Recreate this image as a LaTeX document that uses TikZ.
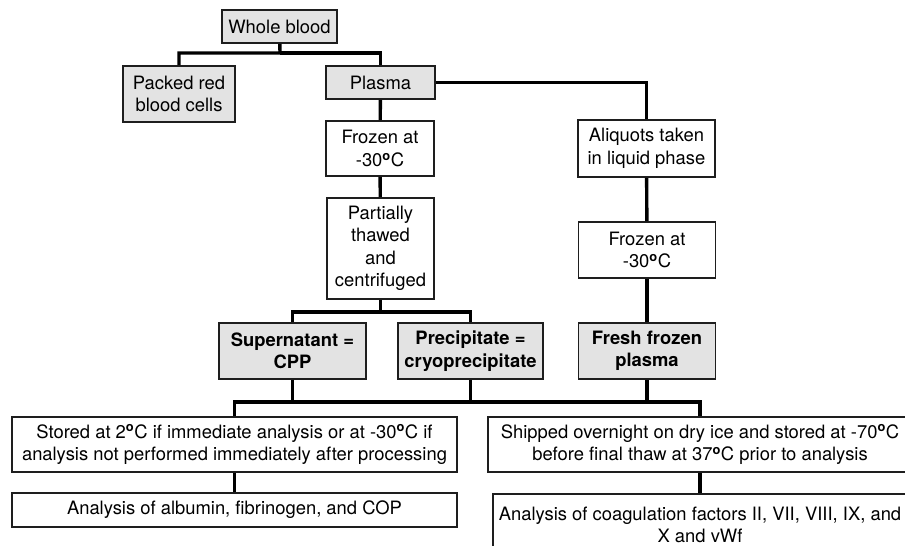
\documentclass[tikz,border=0pt]{standalone}
\usepackage{fontspec}
\setmainfont{TeX Gyre Heros}
\usepackage{xcolor}
\usepackage{tikz}
\usetikzlibrary{positioning,calc}
\definecolor{boxgrey}{HTML}{E3E3E3}
\definecolor{edge}{HTML}{1E1E1E}
\newcommand{\dC}{\textsuperscript{\textbf{o}}C}

\begin{document}
\begin{tikzpicture}[x=1pt,y=-1pt,
  font=\fontsize{18.4}{22.5}\selectfont,
  box/.style={draw=edge,line width=1.9pt,align=center,inner sep=0pt,fill=white},
  part/.style={box,fill=boxgrey},
  prod/.style={part,font=\fontsize{18.4}{22.5}\selectfont\bfseries},
  link/.style={line width=3.4pt,black}]
  \useasboundingbox (0,0) rectangle (905,546);
  \clip (0,0) rectangle (905,546);
  \node[part,minimum width=115,minimum height=33] (whole) at (279.5,26.5) {Whole blood};
  \node[part,minimum width=112,minimum height=56] (packed) at (179,94) {Packed red\\blood cells};
  \node[part,minimum width=109,minimum height=33] (plasma) at (380.5,82.5) {Plasma};
  \node[box,minimum width=108,minimum height=55] (frozA) at (380,148.5) {Frozen at\\-30\dC};
  \node[box,minimum width=107,minimum height=101] (thawed) at (380.5,248.5) {Partially\\thawed\\and\\centrifuged};
  \node[prod,minimum width=147,minimum height=56] (cpp) at (292.5,351) {Supernatant =\\CPP};
  \node[prod,minimum width=145,minimum height=56] (cryo) at (470.5,351) {Precipitate =\\cryoprecipitate};
  \node[box,minimum width=137,minimum height=57] (aliq) at (646.5,148.5) {Aliquots taken\\in liquid phase};
  \node[box,minimum width=137,minimum height=56] (frozB) at (647,250) {Frozen at\\-30\dC};
  \node[prod,minimum width=137,minimum height=56] (ffp) at (647,351) {Fresh frozen\\plasma};
  \node[box,minimum width=445,minimum height=55] (stored) at (234.5,444.5) {Stored at 2\dC{} if immediate analysis or at -30\dC{} if\\analysis not performed immediately after processing};
  \node[box,minimum width=445,minimum height=34] (albumin) at (234.5,510) {Analysis of albumin, fibrinogen, and COP};
  \node[box,minimum width=424,minimum height=55] (shipped) at (700,444.5) {Shipped overnight on dry ice and stored at -70\dC\\before final thaw at 37\dC{} prior to analysis};
  \node[box,minimum width=414,minimum height=62,anchor=north] (coag) at (700,493) {Analysis of coagulation factors II, VII, VIII, IX, and\\X and vWf};
  \coordinate (split) at (280,53);
  \coordinate (spin) at (380.5,312);
  \coordinate (bus) at (470.5,402);
  \draw[link] (whole) -- (split) -| (packed);
  \draw[link] (split) -| (plasma);
  \draw[link] (plasma) -- (frozA);
  \draw[link] (frozA) -- (thawed);
  \draw[link] (plasma.east) -| (aliq);
  \draw[link] (aliq) -- (frozB);
  \draw[link] (frozB) -- (ffp);
  \draw[link] (thawed) -- (spin) -| (cpp);
  \draw[link] (spin) -| (cryo);
  \draw[link] (stored.north) |- (bus) -| (shipped.north);
  \draw[link] (cpp.south) -- (cpp.south |- bus);
  \draw[link] (cryo.south) -- (bus);
  \draw[link] (ffp.south) -- (ffp.south |- bus);
  \draw[link] (stored) -- (albumin);
  \draw[link] (shipped) -- (coag);
\end{tikzpicture}
\end{document}
